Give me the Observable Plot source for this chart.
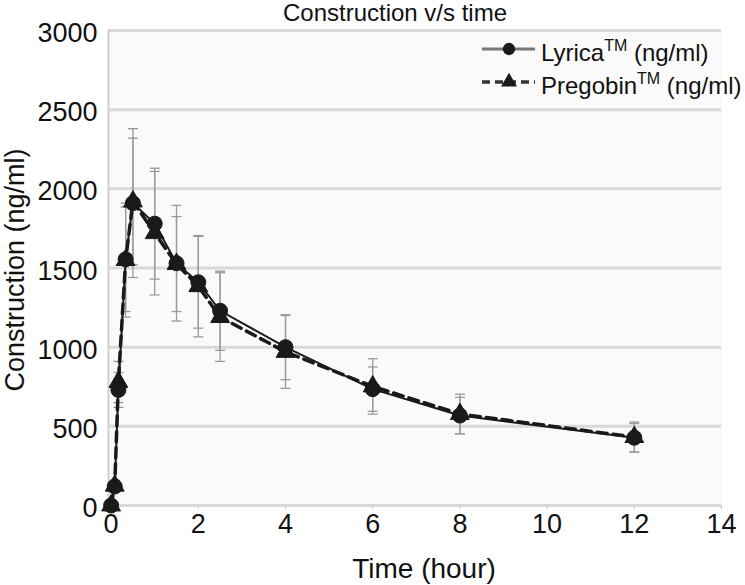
<!DOCTYPE html>
<html>
<head>
<meta charset="utf-8">
<script src="https://cdn.jsdelivr.net/npm/d3@7"></script>
<script src="https://cdn.jsdelivr.net/npm/@observablehq/plot@0.6"></script>
<style>
  html, body { margin: 0; padding: 0; background: #fff; }
  #chart { width: 745px; height: 585px; }
</style>
</head>
<body>
<div id="chart"></div>
<script>
// ---- data ----
const times      = [0, 0.083, 0.167, 0.333, 0.5, 1, 1.5, 2, 2.5, 4, 6, 8, 12];
const lyrica     = [0, 120, 730, 1555, 1910, 1780, 1530, 1410, 1230, 1000, 735, 568, 428];
const lyricaSD   = [0, 30, 110, 330, 470, 350, 365, 290, 250, 205, 140, 115, 90];
const pregobin   = [0, 125, 780, 1550, 1920, 1720, 1525, 1385, 1190, 970, 752, 578, 432];
const pregobinSD = [0, 35, 130, 360, 400, 390, 300, 320, 280, 230, 175, 125, 95];
const xTicks = [0, 2, 4, 6, 8, 10, 12, 14];
const yTicks = [0, 500, 1000, 1500, 2000, 2500, 3000];
const seriesNames = ["Lyrica", "Pregobin"];
const titleText = "Construction v/s time";
const xLabel = "Time (hour)";
const yLabel = "Construction (ng/ml)";

const lyr = times.map((t, i) => ({t, v: lyrica[i], sd: lyricaSD[i]}));
const pre = times.map((t, i) => ({t, v: pregobin[i], sd: pregobinSD[i]}));
const caps = (arr) => arr.flatMap(d => [{t: d.t, v: d.v + d.sd}, {t: d.t, v: d.v - d.sd}]).filter(d => d.v > 0);

const capSymbol = {
  draw(context, size) {
    const w = Math.sqrt(size / Math.PI);
    context.moveTo(-w, 0);
    context.lineTo(w, 0);
  }
};

const FONT = "'Liberation Sans', Arial, Helvetica, sans-serif";
const ink = "#1a1a1a";

const chart = Plot.plot({
  width: 745,
  height: 585,
  marginTop: 30,
  marginBottom: 80,
  marginLeft: 108,
  marginRight: 24,
  style: {fontFamily: FONT, fontSize: "27px", color: "#111", background: "#fff", overflow: "visible"},
  x: {domain: [-0.06, 14]},
  y: {domain: [0, 3000]},
  marks: [
    Plot.frame({fill: "#fafafa", stroke: null}),
    Plot.gridY(yTicks, {stroke: "#d9d9d9", strokeWidth: 3, strokeOpacity: 1}),
    Plot.frame({anchor: "left", stroke: "#d0d0d0", strokeWidth: 2}),
    Plot.axisX(xTicks, {tickSize: 4, stroke: "#c8c8c8", tickPadding: 4, fontSize: 27, fill: "#111",
      tickFormat: d3.format("d"), label: null}),
    Plot.axisY(yTicks, {tickSize: 0, tickPadding: 11, fontSize: 27, fill: "#111", dy: 3,
      tickFormat: d3.format("d"), label: null}),
    // error bars
    Plot.ruleX(pre, {x: "t", y1: d => Math.max(0, d.v - d.sd), y2: d => d.v + d.sd, stroke: "#9a9a9a", strokeWidth: 1.3}),
    Plot.ruleX(lyr, {x: "t", y1: d => Math.max(0, d.v - d.sd), y2: d => d.v + d.sd, stroke: "#9a9a9a", strokeWidth: 1.3}),
    Plot.dot(caps(pre), {x: "t", y: "v", symbol: capSymbol, r: 5, stroke: "#9a9a9a", strokeWidth: 1.3, fill: "none"}),
    Plot.dot(caps(lyr), {x: "t", y: "v", symbol: capSymbol, r: 5, stroke: "#9a9a9a", strokeWidth: 1.3, fill: "none"}),
    // lines
    Plot.line(pre, {x: "t", y: "v", stroke: ink, strokeWidth: 3.5, strokeDasharray: "10,6"}),
    Plot.line(lyr, {x: "t", y: "v", stroke: ink, strokeWidth: 2}),
    // markers
    Plot.dot(pre, {x: "t", y: "v", symbol: "triangle", r: 7, fill: ink, stroke: ink, strokeWidth: 1}),
    Plot.dot(lyr, {x: "t", y: "v", r: 7.5, fill: ink, stroke: ink, strokeWidth: 1})
  ]
});

document.getElementById("chart").appendChild(chart);

const svg = d3.select(chart);

// title
svg.append("text")
  .attr("x", 395).attr("y", 21)
  .attr("text-anchor", "middle")
  .attr("font-family", FONT).attr("font-size", 24).attr("fill", "#111")
  .text(titleText);

// axis titles
svg.append("text")
  .attr("x", 424).attr("y", 578)
  .attr("text-anchor", "middle")
  .attr("font-family", FONT).attr("font-size", 28).attr("fill", "#111")
  .text(xLabel);
svg.append("text")
  .attr("transform", "translate(24,270) rotate(-90)")
  .attr("text-anchor", "middle")
  .attr("font-family", FONT).attr("font-size", 27).attr("fill", "#111")
  .text(yLabel);

// legend
const lg = svg.append("g").attr("font-family", FONT).attr("fill", "#111").attr("text-anchor", "start");
const rows = [
  {name: seriesNames[0], y: 49, dash: null, stroke: "#777", width: 3, sym: d3.symbolCircle, size: 120},
  {name: seriesNames[1], y: 82, dash: "8,5", stroke: "#333", width: 3.5, sym: d3.symbolTriangle, size: 110}
];
rows.forEach(r => {
  lg.append("line").attr("x1", 482).attr("x2", 535).attr("y1", r.y).attr("y2", r.y)
    .attr("stroke", r.stroke).attr("stroke-width", r.width)
    .attr("stroke-dasharray", r.dash);
  lg.append("path").attr("d", d3.symbol(r.sym, r.size)()).attr("transform", `translate(509,${r.y})`).attr("fill", ink);
  const t = lg.append("text").attr("x", 541).attr("y", r.y + 12).attr("font-size", 24).attr("text-anchor", "start");
  t.append("tspan").text(r.name);
  t.append("tspan").attr("font-size", 16).attr("dy", -10).text("TM");
  t.append("tspan").attr("dy", 10).text(" (ng/ml)");
});
</script>
</body>
</html>
